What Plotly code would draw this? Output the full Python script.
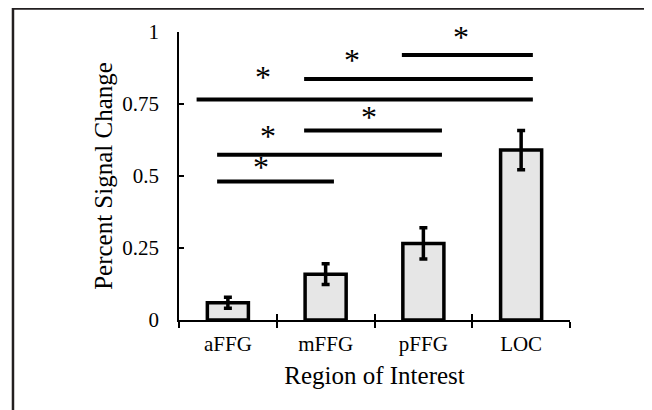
import plotly.graph_objects as go

categories = ["aFFG", "mFFG", "pFFG", "LOC"]
values = [0.06, 0.159, 0.266, 0.59]
errors = [0.019, 0.036, 0.054, 0.068]

# significance bars: start (category index units), end, height
sig_x0 = [-0.11, -0.11, 0.78, -0.32, 0.78, 1.78]
sig_x1 = [1.085, 2.19, 2.19, 3.12, 3.12, 3.12]
sig_y = [0.481, 0.574, 0.658, 0.766, 0.837, 0.92]
star_x = [0.335, 0.41, 1.44, 0.36, 1.27, 2.385]
star_y = [0.54, 0.648, 0.717, 0.853, 0.914, 0.993]

yticks = [0, 0.25, 0.5, 0.75, 1]
yticktext = ["0", "0.25", "0.5", "0.75", "1"]

FONT = "Liberation Serif"

fig = go.Figure()
fig.add_trace(go.Bar(
    x=categories, y=values, width=0.42,
    marker=dict(color="#e6e6e6", line=dict(color="black", width=3.5)),
    error_y=dict(type="data", array=errors, visible=True, color="black",
                 thickness=3.5, width=4),
    showlegend=False, hoverinfo="skip",
))
# invisible trace to activate the overlay axis (inside half of crossing ticks)
fig.add_trace(go.Scatter(
    x=categories, y=values, xaxis="x2", mode="markers",
    marker=dict(opacity=0), showlegend=False, hoverinfo="skip",
))

shapes = []
for x0, x1, y in zip(sig_x0, sig_x1, sig_y):
    shapes.append(dict(type="line", xref="x", yref="y", x0=x0, x1=x1, y0=y, y1=y,
                       line=dict(color="black", width=4)))
# outer frame
shapes.append(dict(type="rect", xref="paper", yref="paper",
                   x0=-0.4246, x1=1.2046, y0=-0.6, y1=1.0816,
                   line=dict(color="#231f20", width=2.5), layer="above"))

annotations = []
for sx, sy in zip(star_x, star_y):
    annotations.append(dict(x=sx, y=sy, xref="x", yref="y", text="*", showarrow=False,
                            font=dict(family=FONT, size=32, color="black"),
                            xanchor="center", yanchor="middle", yshift=-3))

fig.update_layout(
    width=644, height=402,
    margin=dict(l=171, r=82, t=24, b=90, autoexpand=False),
    paper_bgcolor="white", plot_bgcolor="white",
    font=dict(family=FONT, color="black"),
    shapes=shapes, annotations=annotations,
    xaxis=dict(type="category", categoryorder="array", categoryarray=categories,
               range=[-0.5, 3.5], showline=True, linecolor="black", linewidth=1.5,
               ticks="outside", ticklen=6, tickwidth=1.5, tickcolor="black",
               tickson="boundaries", showgrid=False, zeroline=False, automargin=False,
               tickfont=dict(size=21, family=FONT), ticklabelstandoff=4,
               title=dict(text="Region of Interest", font=dict(size=25, family=FONT),
                          standoff=12)),
    xaxis2=dict(type="category", categoryorder="array", categoryarray=categories,
                range=[-0.5, 3.5], overlaying="x", anchor="y", side="bottom",
                showline=False, ticks="inside", ticklen=6, tickwidth=1.5,
                tickcolor="black", tickson="boundaries", showticklabels=False,
                showgrid=False, zeroline=False, automargin=False),
    yaxis=dict(range=[0, 1], tickvals=yticks, ticktext=yticktext,
               showline=True, linecolor="black", linewidth=1.5,
               ticks="inside", ticklen=5, tickwidth=1.5, tickcolor="black",
               showgrid=False, zeroline=False, ticklabelstandoff=14, automargin=False,
               tickfont=dict(size=21, family=FONT),
               title=dict(text="Percent Signal Change", font=dict(size=25, family=FONT),
                          standoff=3)),
)

fig.write_html("out.html")
